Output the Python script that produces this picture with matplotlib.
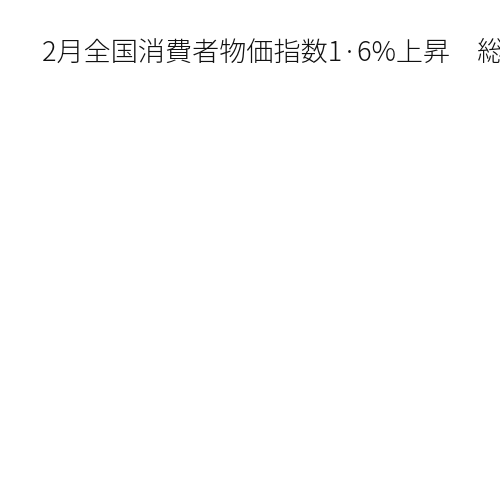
import matplotlib
matplotlib.use("Agg")
import matplotlib.pyplot as plt

plt.rcParams['font.family'] = ['Noto Sans CJK JP', 'DejaVu Sans']

title = "2月全国消費者物価指数1·6%上昇　総合"

fig = plt.figure(figsize=(5, 5), dpi=100)
fig.patch.set_facecolor("white")
fig.text(0.084, 0.878, title, fontsize=19.5, color="#111111",
         ha="left", va="baseline", fontweight="light")
fig.savefig("out.png", dpi=100, facecolor="white")
